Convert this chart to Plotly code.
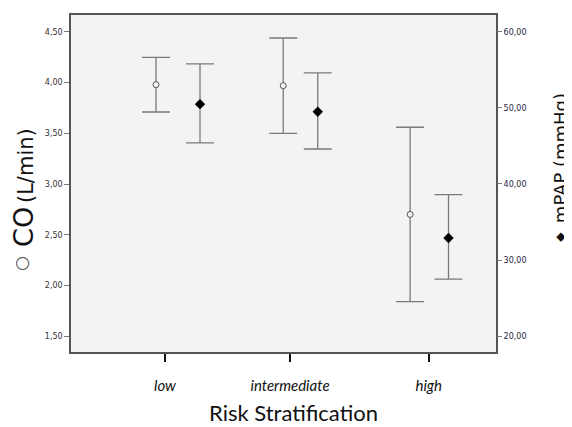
import plotly.graph_objects as go

# ---- data ----
categories = ["low", "intermediate", "high"]
co_mean = [3.98, 3.97, 2.70]
co_upper = [4.25, 4.44, 3.56]
co_lower = [3.71, 3.50, 1.84]
mpap_mean = [50.5, 49.5, 32.9]
mpap_upper = [55.8, 54.6, 38.6]
mpap_lower = [45.4, 44.6, 27.5]
co_ticks = [1.5, 2.0, 2.5, 3.0, 3.5, 4.0, 4.5]
mpap_ticks = [20, 30, 40, 50, 60]

# ---- layout positions (not data) ----
cat_pos = [0, 1, 2.11]
co_off = [-0.072, -0.054, -0.149]
mpap_off = [0.28, 0.222, 0.158]
co_x = [p + o for p, o in zip(cat_pos, co_off)]
mpap_x = [p + o for p, o in zip(cat_pos, mpap_off)]

ERR = "#7a7a7a"
BG = "#f3f3f3"
PAGE = 8  # default body margin of the html page
W, H = 572 - PAGE, 427 - PAGE
L, R, T, B = 71, 496, 13, 352  # plot area in window pixels
PW, PH = R - L, B - T


def px(x):
    return (x - L) / PW


def py(y):
    return (B - y) / PH


fig = go.Figure()
fig.add_trace(go.Scatter(
    x=co_x, y=co_mean, mode="markers", name="CO",
    marker=dict(symbol="circle", size=6, color=BG, line=dict(color="#555555", width=1)),
    error_y=dict(type="data", symmetric=False,
                 array=[u - m for u, m in zip(co_upper, co_mean)],
                 arrayminus=[m - l for m, l in zip(co_mean, co_lower)],
                 color=ERR, thickness=1.3, width=14),
    yaxis="y", showlegend=False))
fig.add_trace(go.Scatter(
    x=mpap_x, y=mpap_mean, mode="markers", name="mPAP",
    marker=dict(symbol="diamond", size=8, color="black", line=dict(width=0)),
    error_y=dict(type="data", symmetric=False,
                 array=[u - m for u, m in zip(mpap_upper, mpap_mean)],
                 arrayminus=[m - l for m, l in zip(mpap_mean, mpap_lower)],
                 color=ERR, thickness=1.3, width=14),
    yaxis="y2", showlegend=False))

fig.update_layout(
    width=W, height=H,
    margin=dict(l=L - PAGE, r=572 - R, t=T - PAGE, b=427 - B, pad=0),
    paper_bgcolor="white", plot_bgcolor=BG,
    separators=",.",
    font=dict(family="DejaVu Sans", color="#333"),
    xaxis=dict(range=[-0.752, 2.648], tickvals=cat_pos, ticktext=categories,
               showgrid=False, zeroline=False,
               showline=True, linecolor="#555555", linewidth=1.5, mirror=True,
               ticks="outside", ticklen=8, tickwidth=2, tickcolor="#111",
               ticklabelstandoff=11,
               tickfont=dict(family="Lato", size=15, color="#111", style="italic")),
    yaxis=dict(range=[1.343, 4.667], tickvals=co_ticks, tickformat=".2f",
               showgrid=False, zeroline=False,
               showline=True, linecolor="#555555", linewidth=1.5, mirror=True,
               ticks="outside", ticklen=5, tickwidth=1, tickcolor="#777",
               tickfont=dict(family="DejaVu Sans", size=8, color="#333")),
    yaxis2=dict(range=[17.91, 62.22], tickvals=mpap_ticks, tickformat=".2f",
                overlaying="y", side="right", showgrid=False, zeroline=False,
                showline=False, ticks="outside", ticklen=5, tickwidth=1, tickcolor="#777",
                tickfont=dict(family="DejaVu Sans", size=8, color="#2b2545")),
)

# left title: symbol + text
fig.add_annotation(
    text="○", xref="paper", yref="paper", x=px(21), y=py(263.5),
    showarrow=False, textangle=-90, font=dict(family="DejaVu Sans", size=17, color="#555"),
    xanchor="center", yanchor="middle")
fig.add_annotation(
    text='<span style="font-size:27px">CO</span> <span style="font-size:21px">(L/min)</span>',
    xref="paper", yref="paper", x=px(24), y=py(187),
    showarrow=False, textangle=-90, font=dict(family="DejaVu Sans", color="#111"),
    xanchor="center", yanchor="middle")
# right title: symbol + text
fig.add_annotation(
    text="◆", xref="paper", yref="paper", x=px(560), y=py(236),
    showarrow=False, textangle=-90, font=dict(family="DejaVu Sans", size=12, color="#111"),
    xanchor="center", yanchor="middle")
fig.add_annotation(
    text="mPAP (mmHg)",
    xref="paper", yref="paper", x=px(560), y=py(157),
    showarrow=False, textangle=-90, font=dict(family="DejaVu Sans", size=18, color="#111"),
    xanchor="center", yanchor="middle")
fig.add_annotation(
    text="Risk Stratification",
    xref="paper", yref="paper", x=px(293), y=py(413),
    showarrow=False, font=dict(family="Lato", size=22, color="#111"),
    xanchor="center", yanchor="middle")

fig.write_html("out.html")
